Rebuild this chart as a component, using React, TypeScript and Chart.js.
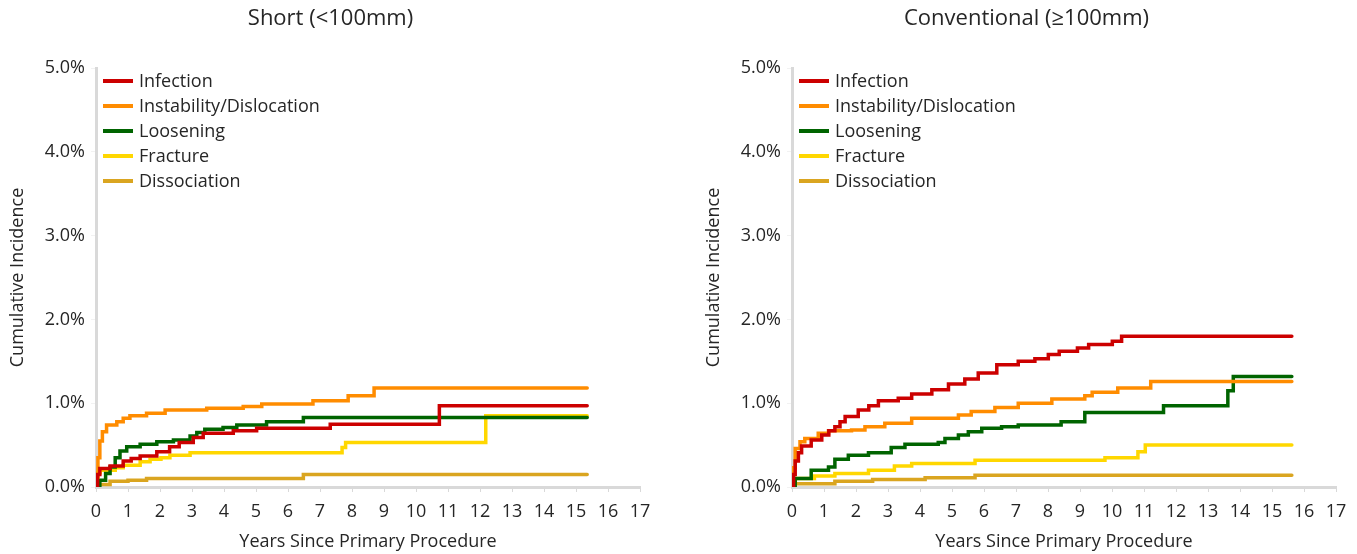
import React, { useEffect, useRef } from "react";
import { Chart, registerables } from "chart.js";

Chart.register(...registerables);

// ---------- data ----------
const xTickValues = [0, 1, 2, 3, 4, 5, 6, 7, 8, 9, 10, 11, 12, 13, 14, 15, 16, 17];
const yTickValues = [0, 1, 2, 3, 4, 5];
const seriesNames = ["Infection", "Instability/Dislocation", "Loosening", "Fracture", "Dissociation"];
const seriesColors = ["#CC0000", "#FF8C00", "#006400", "#FFD700", "#DAA520"];
const chartTitles = ["Short (<100mm)", "Conventional (\u2265100mm)"];

// [years, cumulative incidence %]
const shortInfection = [
  [0, 0], [0.05, 0.15], [0.12, 0.22], [0.44, 0.25], [0.85, 0.31], [1.1, 0.34], [1.38, 0.37],
  [1.9, 0.42], [2.3, 0.48], [2.6, 0.53], [3.04, 0.59], [3.35, 0.64], [4.29, 0.67],
  [5.02, 0.7], [7.32, 0.75], [10.73, 0.97], [15.35, 0.97],
];
const shortInstability = [
  [0, 0], [0.02, 0.12], [0.06, 0.35], [0.12, 0.55], [0.2, 0.66], [0.33, 0.74], [0.65, 0.78],
  [0.85, 0.82], [1.06, 0.85], [1.58, 0.88], [2.16, 0.92], [3.46, 0.94], [4.6, 0.96],
  [5.18, 0.99], [6.78, 1.03], [7.88, 1.09], [8.69, 1.18], [15.35, 1.18],
];
const shortLoosening = [
  [0, 0], [0.12, 0.08], [0.3, 0.16], [0.44, 0.24], [0.6, 0.35], [0.75, 0.43], [0.96, 0.48],
  [1.38, 0.51], [1.9, 0.54], [2.42, 0.56], [2.94, 0.61], [3.15, 0.65], [3.4, 0.69],
  [3.97, 0.71], [4.4, 0.74], [5.33, 0.78], [6.48, 0.83], [15.35, 0.83],
];
const shortFracture = [
  [0, 0], [0.05, 0.17], [0.13, 0.2], [0.6, 0.23], [0.85, 0.26], [1.38, 0.3], [1.69, 0.33],
  [2.03, 0.35], [2.31, 0.38], [2.94, 0.41], [7.69, 0.47], [7.8, 0.53], [12.18, 0.85], [15.35, 0.85],
];
const shortDissociation = [
  [0, 0], [0.06, 0.03], [0.44, 0.07], [1.0, 0.08], [1.58, 0.1], [6.48, 0.15], [15.35, 0.15],
];

const convInfection = [
  [0, 0], [0.05, 0.15], [0.1, 0.31], [0.2, 0.41], [0.3, 0.49], [0.6, 0.56], [0.93, 0.62],
  [1.15, 0.67], [1.34, 0.72], [1.5, 0.78], [1.66, 0.84], [2.07, 0.92], [2.4, 0.97],
  [2.7, 1.03], [3.32, 1.06], [3.74, 1.11], [4.37, 1.16], [4.89, 1.23], [5.4, 1.29],
  [5.82, 1.36], [6.4, 1.46], [7.07, 1.5], [7.59, 1.53], [8.01, 1.58], [8.35, 1.62],
  [8.92, 1.66], [9.27, 1.7], [10.01, 1.74], [10.3, 1.8], [15.62, 1.8],
];
const convInstability = [
  [0, 0], [0.02, 0.23], [0.1, 0.46], [0.25, 0.54], [0.4, 0.58], [0.82, 0.64], [1.14, 0.67],
  [1.86, 0.68], [2.28, 0.72], [2.9, 0.76], [3.74, 0.82], [5.2, 0.86], [5.6, 0.9],
  [6.34, 0.95], [7.07, 1.0], [8.12, 1.05], [9.15, 1.09], [9.38, 1.13],
  [10.18, 1.18], [11.21, 1.26], [15.62, 1.26],
];
const convLoosening = [
  [0, 0], [0.1, 0.1], [0.6, 0.2], [1.14, 0.24], [1.34, 0.33], [1.76, 0.38], [2.39, 0.41],
  [3.1, 0.47], [3.53, 0.51], [4.57, 0.53], [4.78, 0.58], [5.2, 0.62], [5.51, 0.66],
  [5.93, 0.7], [6.55, 0.72], [7.07, 0.74], [8.41, 0.78], [9.15, 0.89], [11.61, 0.97],
  [13.62, 1.15], [13.79, 1.32], [15.62, 1.32],
];
const convFracture = [
  [0, 0], [0.1, 0.1], [0.7, 0.13], [1.34, 0.16], [2.39, 0.2], [3.2, 0.25], [3.74, 0.28],
  [5.72, 0.32], [9.78, 0.35], [10.81, 0.42], [11.04, 0.5], [15.62, 0.5],
];
const convDissociation = [
  [0, 0], [0.1, 0.04], [1.34, 0.07], [2.52, 0.09], [4.16, 0.11], [5.72, 0.14], [15.62, 0.14],
];

const shortSeries = [shortInfection, shortInstability, shortLoosening, shortFracture, shortDissociation];
const convSeries = [convInfection, convInstability, convLoosening, convFracture, convDissociation];

const FONT = "'Open Sans', 'Noto Sans', sans-serif";
const TEXT = "#262626";
const AXIS = "#D9D9D9";

const insideLegend = {
  id: "insideLegend",
  afterDraw(chart: any) {
    const { ctx, chartArea } = chart;
    ctx.save();
    chart.data.datasets.forEach((ds: any, i: number) => {
      const y = chartArea.top + 13 + i * 25;
      ctx.strokeStyle = ds.borderColor;
      ctx.lineWidth = 4;
      ctx.beginPath();
      ctx.moveTo(chartArea.left + 7, y);
      ctx.lineTo(chartArea.left + 37, y);
      ctx.stroke();
      ctx.fillStyle = TEXT;
      ctx.font = `18px ${FONT}`;
      ctx.textBaseline = "middle";
      ctx.textAlign = "left";
      ctx.fillText(ds.label, chartArea.left + 43, y + 1);
    });
    ctx.restore();
  },
};

function Panel({ title, series, left }: { title: string; series: number[][][]; left: number }) {
  const ref = useRef<HTMLCanvasElement>(null);
  useEffect(() => {
    if (!ref.current) return;
    const chart = new Chart(ref.current, {
      type: "line",
      data: {
        datasets: series.map((s, i) => ({
          label: seriesNames[i],
          data: s.map(([x, y]) => ({ x, y })),
          borderColor: seriesColors[i],
          backgroundColor: seriesColors[i],
          borderWidth: 3.5,
          borderCapStyle: "round",
          stepped: true,
          pointRadius: 0,
          fill: false,
        })),
      },
      options: {
        animation: false,
        responsive: false,
        devicePixelRatio: 1,
        layout: { padding: { left: 0, right: 0, top: 0, bottom: 0 } },
        plugins: {
          legend: { display: false },
          tooltip: { enabled: false },
          title: {
            display: true,
            text: title,
            color: TEXT,
            font: { family: FONT, size: 22, weight: "normal" },
            padding: { top: 6, bottom: 35.6 },
          },
        },
        scales: {
          x: {
            type: "linear",
            min: 0,
            max: 17,
            afterBuildTicks: (axis: any) => {
              axis.ticks = xTickValues.map((v) => ({ value: v }));
            },
            afterFit: (axis: any) => {
              axis.height = 67;
            },
            ticks: { color: TEXT, font: { family: FONT, size: 18 }, padding: 9, maxRotation: 0, autoSkip: false },
            grid: { drawOnChartArea: false, drawTicks: true, tickLength: 5, color: AXIS },
            border: { color: AXIS, width: 3 },
            title: {
              display: true,
              text: "Years Since Primary Procedure",
              color: TEXT,
              font: { family: FONT, size: 18 },
              padding: { top: 0, bottom: 1 },
            },
          },
          y: {
            type: "linear",
            min: 0,
            max: 5,
            afterBuildTicks: (axis: any) => {
              axis.ticks = yTickValues.map((v) => ({ value: v }));
            },
            afterFit: (axis: any) => {
              axis.width = 96;
            },
            ticks: {
              color: TEXT,
              font: { family: FONT, size: 18 },
              padding: 6,
              callback: (v: any) => Number(v).toFixed(1) + "%",
            },
            grid: { drawOnChartArea: false, drawTicks: true, tickLength: 5, color: "#F2F2F2" },
            border: { color: AXIS, width: 3 },
            title: {
              display: true,
              text: "Cumulative Incidence",
              color: TEXT,
              font: { family: FONT, size: 18 },
              padding: { top: 7, bottom: 0 },
            },
          },
          spacer: {
            type: "linear",
            position: "right",
            display: true,
            min: 0,
            max: 1,
            afterFit: (axis: any) => {
              axis.width = 21;
            },
            ticks: { display: false },
            grid: { display: false, drawTicks: false },
            border: { display: false },
            title: { display: false },
          },
        },
      },
      plugins: [insideLegend],
    } as any);
    return () => chart.destroy();
  }, [title, series]);
  return (
    <canvas
      ref={ref}
      width={661}
      height={554}
      style={{ position: "absolute", left, top: 0, width: 661, height: 554 }}
    />
  );
}

export default function App() {
  return (
    <div style={{ position: "absolute", left: 0, top: 0, width: 1357, height: 554, background: "#fff" }}>
      <Panel title={chartTitles[0]} series={shortSeries} left={0} />
      <Panel title={chartTitles[1]} series={convSeries} left={696} />
    </div>
  );
}
